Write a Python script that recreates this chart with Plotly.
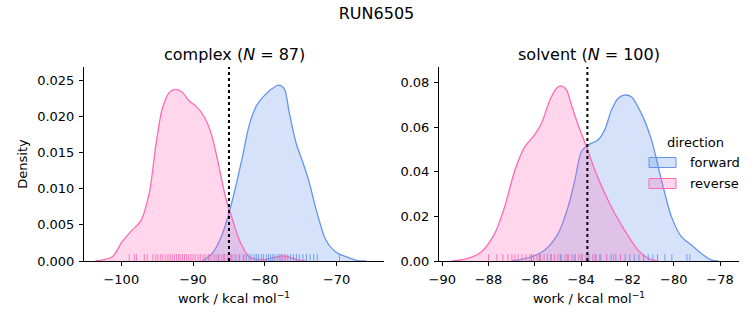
import plotly.graph_objects as go

# ---------------- data ----------------
complex_fwd_x = [-88.7, -87.3, -85.9, -84.5, -83.1, -82.2, -81.2, -80.3, -79.4, -78.1,
                 -77.3, -76.6, -75.65, -74.7, -73.8, -72.85, -71.5, -70.07, -68.7, -67.3, -65.9]
complex_fwd_y = [0.0, 0.0011, 0.0038, 0.0085, 0.0145, 0.0187, 0.0214, 0.0226, 0.0235, 0.0243,
                 0.0238, 0.0205, 0.0163, 0.0136, 0.0108, 0.0071, 0.0029, 0.0012, 0.0006, 0.0001, 0.0]
complex_rev_x = [-103.6, -101.25, -99.86, -98.46, -97.3, -96.1, -95.2, -94.3, -93.3, -92.4,
                 -91.5, -90.55, -89.6, -88.5, -87.5, -86.6, -85.4, -84.5, -83.55, -82.2,
                 -80.0, -77.5, -75.5, -74.3]
complex_rev_y = [0.0, 0.0006, 0.0027, 0.0043, 0.0055, 0.0094, 0.0159, 0.0210, 0.0233, 0.0237,
                 0.0233, 0.0221, 0.0214, 0.0200, 0.0177, 0.0140, 0.0085, 0.0057, 0.0029, 0.0006,
                 0.0002, 0.0007, 0.0002, 0.0]

solvent_fwd_x = [-87.0, -86.14, -85.57, -84.99, -84.56, -84.27, -83.99, -83.7, -83.27, -82.98,
                 -82.69, -82.4, -82.14, -81.83, -81.4, -80.96, -80.53, -80.1, -79.67, -79.24,
                 -78.81, -78.37, -78.09]
solvent_fwd_y = [0.0, 0.0019, 0.0049, 0.0124, 0.0244, 0.0363, 0.0490, 0.0520, 0.0543, 0.0588,
                 0.0677, 0.0730, 0.0744, 0.0737, 0.0662, 0.0543, 0.0363, 0.0199, 0.0109, 0.0072,
                 0.0034, 0.0004, 0.0]
solvent_rev_x = [-89.6, -88.88, -88.3, -87.73, -87.3, -86.86, -86.43, -86.07, -85.71, -85.35,
                 -85.06, -84.85, -84.63, -84.42, -84.13, -83.77, -83.41, -82.98, -82.55, -82.04,
                 -81.54, -81.1, -80.68]
solvent_rev_y = [0.0, 0.0012, 0.0042, 0.0124, 0.0244, 0.0408, 0.0513, 0.0558, 0.0618, 0.0722,
                 0.0775, 0.0785, 0.0767, 0.0700, 0.0610, 0.0513, 0.0408, 0.0304, 0.0214, 0.0124,
                 0.0049, 0.0012, 0.0]

complex_rev_rug = [-98.9, -98.2, -97.9, -96.8, -96.4, -95.6, -95.2, -94.9, -94.5, -94.2, -93.8,
                   -93.5, -93.2, -92.9, -92.6, -92.3, -92.0, -91.8, -91.5, -91.2, -90.9, -90.6,
                   -90.3, -90.0, -89.7, -89.3, -89.0, -88.6, -88.3, -87.9, -87.5, -87.1, -86.8,
                   -86.4, -86.0, -85.6, -85.2, -84.8, -84.3, -83.6, -82.9, -77.6, -77.2]
complex_fwd_rug = [-87.8, -86.5, -85.7, -84.6, -84.0, -83.5, -83.0, -82.6, -82.2, -81.9, -81.5,
                   -81.2, -80.9, -80.5, -80.2, -79.8, -79.5, -79.2, -78.9, -78.6, -78.2, -77.9,
                   -77.6, -77.2, -76.8, -76.4, -76.0, -75.6, -75.2, -74.7, -74.2, -73.7, -73.2,
                   -72.7, -69.6]
solvent_rev_rug = [-88.0, -87.64, -87.38, -87.16, -86.99, -86.86, -86.73, -86.56, -86.38, -86.21,
                   -86.05, -85.9, -85.75, -85.6, -85.45, -85.3, -85.15, -85.0, -84.85, -84.7,
                   -84.55, -84.4, -84.25, -84.1, -83.95, -83.8, -83.65, -83.5, -83.35, -83.2,
                   -82.9, -82.6, -82.3]
solvent_fwd_rug = [-86.14, -85.8, -85.3, -84.9, -84.6, -84.3, -84.0, -83.7, -83.4, -83.15,
                   -82.9, -82.7, -82.5, -82.3, -82.1, -81.9, -81.7, -81.5, -81.3, -81.1,
                   -80.9, -80.7, -80.38, -80.08, -79.43, -79.3]

complex_dg = -85.0
solvent_dg = -83.73

suptitle = "RUN6505"
panel_titles = ["complex (<i>N</i> = 87)", "solvent (<i>N</i> = 100)"]
xlabel = "work / kcal mol<sup>−1</sup>"
ylabel = "Density"
legend_title = "direction"
legend_labels = ["forward", "reverse"]

complex_xticks = [-100, -90, -80, -70]
solvent_xticks = [-90, -88, -86, -84, -82, -80, -78]
complex_yticks = [0.0, 0.005, 0.010, 0.015, 0.020, 0.025]
solvent_yticks = [0.0, 0.02, 0.04, 0.06, 0.08]

# ---------------- style ----------------
FWD_LINE = "rgb(100,149,237)"
FWD_FILL = "rgba(100,149,237,0.27)"
REV_LINE = "rgb(255,105,180)"
REV_FILL = "rgba(255,105,180,0.27)"
FONT = "DejaVu Sans"
FS = 13
TFS = 16

W, H = 753, 325
L, R, T, B = 84, 14, 67, 64
pw, ph = W - L - R, H - T - B


def px2paper(x, y):
    return (x - L) / pw, (H - B - y) / ph


fig = go.Figure()

xr_c = [-105.2, -63.4]
yr_c = [0, 0.0268]
xr_s = [-90.14, -77.18]
yr_s = [0, 0.0870]

panels = [
    ("x", "y", complex_fwd_x, complex_fwd_y, complex_rev_x, complex_rev_y,
     complex_fwd_rug, complex_rev_rug, yr_c),
    ("x2", "y2", solvent_fwd_x, solvent_fwd_y, solvent_rev_x, solvent_rev_y,
     solvent_fwd_rug, solvent_rev_rug, yr_s),
]

for xa, ya, fx, fy, rx, ry, frug, rrug, yr in panels:
    fig.add_trace(go.Scatter(x=fx, y=fy, mode="lines", fill="tozeroy",
                             fillcolor=FWD_FILL, line=dict(color=FWD_LINE, width=1.3, shape="spline", smoothing=0.8),
                             xaxis=xa, yaxis=ya, showlegend=False, hoverinfo="skip"))
    fig.add_trace(go.Scatter(x=rx, y=ry, mode="lines", fill="tozeroy",
                             fillcolor=REV_FILL, line=dict(color=REV_LINE, width=1.3, shape="spline", smoothing=0.8),
                             xaxis=xa, yaxis=ya, showlegend=False, hoverinfo="skip"))
    rug_y = yr[1] * 0.014
    for rug, col in ((frug, FWD_LINE), (rrug, REV_LINE)):
        fig.add_trace(go.Scatter(x=rug, y=[rug_y] * len(rug), mode="markers",
                                 marker=dict(symbol="line-ns-open", size=6, opacity=0.85, color=col,
                                             line=dict(color=col, width=1)),
                                 xaxis=xa, yaxis=ya, showlegend=False, hoverinfo="skip"))

# vertical dotted lines
for xa, dg in (("x", complex_dg), ("x2", solvent_dg)):
    fig.add_shape(type="line", xref=xa, yref=("y domain" if xa == "x" else "y2 domain"),
                  x0=dg, x1=dg, y0=0, y1=1, line=dict(color="black", width=2, dash="dot"))

split1 = 300 / pw
split2 = (439 - L) / pw

axis_common = dict(showline=True, linecolor="black", linewidth=1, ticks="outside",
                   ticklen=4, tickwidth=1, tickcolor="black", showgrid=False, zeroline=False,
                   tickfont=dict(family=FONT, size=FS, color="black"), mirror=False)
title_font = dict(family=FONT, size=FS, color="black")

fig.update_layout(
    xaxis=dict(domain=[0, split1], range=xr_c, tickvals=complex_xticks, anchor="y",
               ticklabelstandoff=2,
               title=dict(text=xlabel, font=title_font, standoff=8), **axis_common),
    yaxis=dict(domain=[0, 1], range=yr_c, tickvals=complex_yticks, tickformat=".3f", anchor="x",
               ticklabelstandoff=2,
               title=dict(text=ylabel, font=title_font, standoff=6), **axis_common),
    xaxis2=dict(domain=[split2, 1], range=xr_s, tickvals=solvent_xticks, anchor="y2",
                ticklabelstandoff=2,
                title=dict(text=xlabel, font=title_font, standoff=8), **axis_common),
    yaxis2=dict(domain=[0, 1], range=yr_s, tickvals=solvent_yticks, tickformat=".2f", anchor="x2",
                ticklabelstandoff=2, **axis_common),
)

# subplot titles
for title, (a, b) in zip(panel_titles, [(0, split1), (split2, 1)]):
    fig.add_annotation(text=title, xref="paper", yref="paper", x=(a + b) / 2, y=1,
                       xanchor="center", yanchor="bottom", yshift=1, showarrow=False,
                       font=dict(family=FONT, size=TFS, color="black"))

# manual legend
fig.add_annotation(text=legend_title, xref="paper", yref="paper",
                   x=px2paper(695, 0)[0], y=px2paper(0, 142)[1],
                   xanchor="center", yanchor="middle", showarrow=False,
                   font=dict(family=FONT, size=FS, color="black"))
for (lab, lc, fc, cy) in ((legend_labels[0], FWD_LINE, FWD_FILL, 162.5),
                          (legend_labels[1], REV_LINE, REV_FILL, 183.5)):
    x0, y0 = px2paper(649, cy + 5)
    x1, y1 = px2paper(676, cy - 5)
    fig.add_shape(type="rect", xref="paper", yref="paper", x0=x0, x1=x1, y0=y0, y1=y1,
                  line=dict(color=lc, width=1), fillcolor=fc)
    tx, ty = px2paper(688, cy)
    fig.add_annotation(text=lab, xref="paper", yref="paper", x=tx, y=ty, xanchor="left",
                       yanchor="middle", showarrow=False,
                       font=dict(family=FONT, size=FS, color="black"))

fig.update_layout(
    width=W, height=H,
    margin=dict(l=L, r=R, t=T, b=B),
    paper_bgcolor="white", plot_bgcolor="white",
    title=dict(text=suptitle, x=0.5, xanchor="center", y=1 - 13 / H, yanchor="middle",
               font=dict(family=FONT, size=TFS, color="black")),
    showlegend=False,
)

fig.write_html("out.html")
